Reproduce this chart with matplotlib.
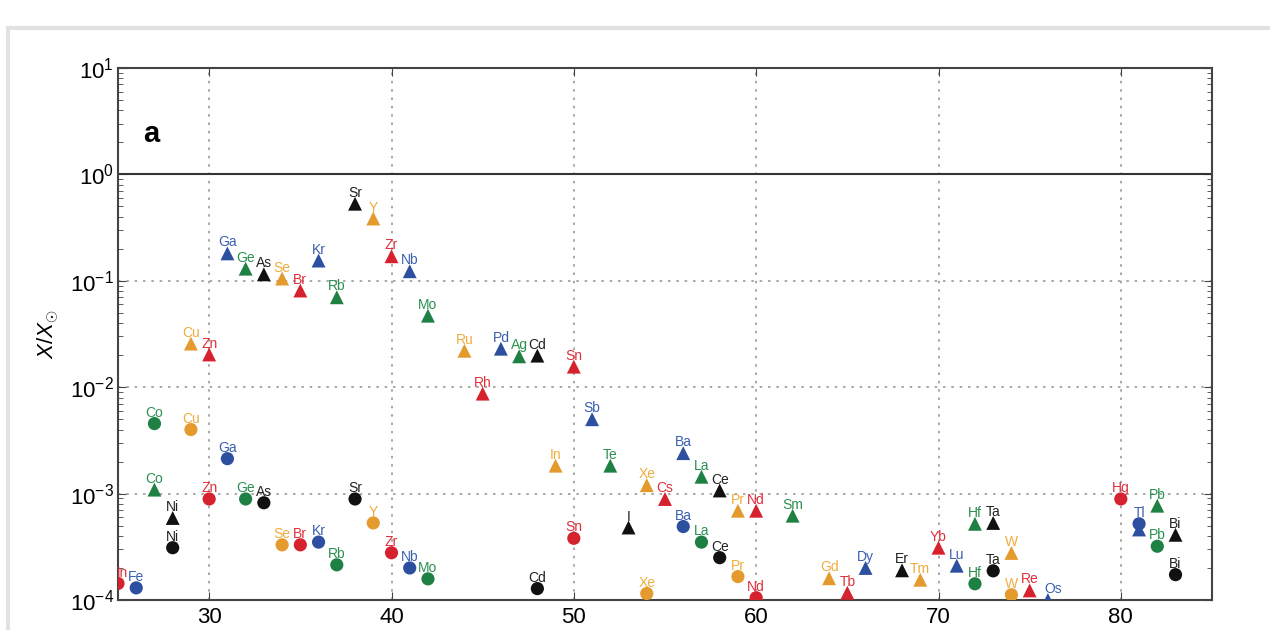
import matplotlib
matplotlib.use('Agg')
import matplotlib.pyplot as plt
from matplotlib.patches import Rectangle

plt.rcParams['font.family'] = ['Liberation Sans', 'DejaVu Sans']
plt.rcParams['mathtext.fontset'] = 'custom'
plt.rcParams['mathtext.rm'] = 'Liberation Sans'
plt.rcParams['mathtext.it'] = 'Liberation Sans:italic'

# ---------- DATA ----------
# triangles (upper set)
tri_syms = ['Co', 'Ni', 'Cu', 'Zn', 'Ga', 'Ge', 'As', 'Se', 'Br', 'Kr',
            'Rb', 'Sr', 'Y', 'Zr', 'Nb', 'Mo', 'Ru', 'Rh', 'Pd', 'Ag',
            'Cd', 'In', 'Sn', 'Sb', 'Te', 'I', 'Xe', 'Cs', 'Ba', 'La',
            'Ce', 'Pr', 'Nd', 'Sm', 'Gd', 'Tb', 'Dy', 'Er', 'Tm', 'Yb',
            'Lu', 'Hf', 'Ta', 'W', 'Re', 'Os', 'Tl', 'Pb', 'Bi']
tri_z = [27, 28, 29, 30, 31, 32, 33, 34, 35, 36,
         37, 38, 39, 40, 41, 42, 44, 45, 46, 47,
         48, 49, 50, 51, 52, 53, 54, 55, 56, 57,
         58, 59, 60, 62, 64, 65, 66, 68, 69, 70,
         71, 72, 73, 74, 75, 76, 81, 82, 83]
tri_vals = [1.09e-3, 5.9e-4, 2.57e-2, 2.03e-2, 0.181, 0.13, 0.115, 0.105, 0.081, 0.155,
            0.070, 0.53, 0.385, 0.17, 0.123, 0.047, 0.022, 0.0087, 0.023, 0.0195,
            0.0198, 1.83e-3, 0.0156, 5.0e-3, 1.83e-3, 4.8e-4, 1.2e-3, 8.9e-4, 2.4e-3, 1.44e-3,
            1.07e-3, 6.9e-4, 6.9e-4, 6.2e-4, 1.6e-4, 1.17e-4, 2.0e-4, 1.9e-4, 1.55e-4, 3.1e-4,
            2.1e-4, 5.2e-4, 5.3e-4, 2.77e-4, 1.23e-4, 1.0e-4, 4.6e-4, 7.7e-4, 4.1e-4]

# circles (lower set)
circ_syms = ['Mn', 'Fe', 'Co', 'Ni', 'Cu', 'Zn', 'Ga', 'Ge', 'As', 'Se',
             'Br', 'Kr', 'Rb', 'Sr', 'Y', 'Zr', 'Nb', 'Mo', 'Cd', 'Sn',
             'Xe', 'Ba', 'La', 'Ce', 'Pr', 'Nd', 'Hf', 'Ta', 'W', 'Hg',
             'Tl', 'Pb', 'Bi']
circ_z = [25, 26, 27, 28, 29, 30, 31, 32, 33, 34,
          35, 36, 37, 38, 39, 40, 41, 42, 48, 50,
          54, 56, 57, 58, 59, 60, 72, 73, 74, 80,
          81, 82, 83]
circ_vals = [1.43e-4, 1.3e-4, 4.55e-3, 3.1e-4, 4.0e-3, 8.9e-4, 2.13e-3, 8.9e-4, 8.2e-4, 3.3e-4,
             3.3e-4, 3.5e-4, 2.14e-4, 8.9e-4, 5.3e-4, 2.78e-4, 2.0e-4, 1.58e-4, 1.28e-4, 3.8e-4,
             1.15e-4, 4.9e-4, 3.5e-4, 2.5e-4, 1.66e-4, 1.05e-4, 1.42e-4, 1.88e-4, 1.12e-4, 8.9e-4,
             5.2e-4, 3.2e-4, 1.73e-4]

x_ticks = [30, 40, 50, 60, 70, 80]

# the Tl triangle sits under the Tl circle and shares its label
tri_unlabelled = ['Tl']

# colour cycles with atomic number: Fe blue, Co green, Ni black, Cu orange, Zn red
palette = ['#2c4f9f', '#1e8043', '#111111', '#e49a2c', '#d6222f']
label_palette = ['#3a5fb0', '#2a9050', '#222222', '#f0ad3c', '#e0303c']


def col(z, pal):
    return pal[(z - 26) % 5]


# ---------- FIGURE ----------
fig = plt.figure(figsize=(12.7, 6.3), dpi=100)
ax = fig.add_axes([118 / 1270, 1 - 600 / 630, 1094 / 1270, 532 / 630])

ax.set_yscale('log')
ax.set_xlim(25, 85)
ax.set_ylim(1e-4, 10)

ax.scatter(tri_z, tri_vals, marker='^', s=100,
           c=[col(z, palette) for z in tri_z], edgecolors='none', zorder=3)
ax.scatter(circ_z, circ_vals, marker='o', s=90,
           c=[col(z, palette) for z in circ_z], edgecolors='none', zorder=3)

labels = [(s, z, v) for s, z, v in zip(tri_syms, tri_z, tri_vals) if s not in tri_unlabelled]
labels += list(zip(circ_syms, circ_z, circ_vals))
for s, z, v in labels:
    dx = 4 if s == 'Os' else 0
    ax.annotate(s, (z, v), xytext=(dx, 5), textcoords='offset points',
                ha='center', va='baseline', fontsize=10,
                color=col(z, label_palette), zorder=4, annotation_clip=False,
                clip_on=True)

ax.axhline(1.0, color='#333333', lw=1.5, zorder=2)

# ---------- AXES STYLE ----------
ax.set_xticks(x_ticks)
ax.tick_params(axis='both', which='both', direction='in', top=True, right=True,
               labelsize=16, color='#444444')
ax.tick_params(axis='both', which='major', length=6, pad=5)
ax.tick_params(axis='y', which='minor', length=3.5)
ax.tick_params(axis='y', which='major', pad=3)
ax.grid(True, which='major', color='#9a9a9a', linestyle=(0, (1.5, 3.5)), lw=1.2)

for sp in ax.spines.values():
    sp.set_color('#444444')
    sp.set_linewidth(1.5)

ax.set_ylabel(r'$X/X_{\odot}$', fontsize=16, labelpad=6)
ax.text(0.023, 0.875, 'a', transform=ax.transAxes, fontsize=21,
        fontweight='bold', ha='left', va='center')

# light frame of the panel
fig.add_artist(Rectangle((8 / 1270, -0.1), 1.5, (630 - 28) / 630 + 0.1,
                         transform=fig.transFigure, fill=False,
                         edgecolor='#e2e2e2', lw=3))

fig.savefig('out.png', dpi=100)
